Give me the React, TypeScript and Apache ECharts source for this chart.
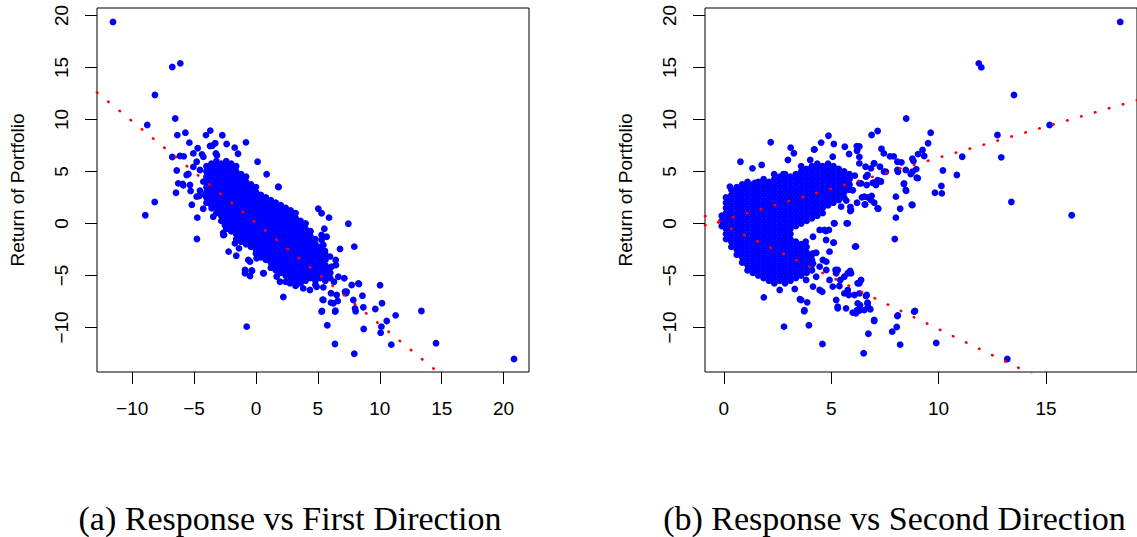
import React, { useEffect, useRef } from "react";
import * as echarts from "echarts";

// ---------- data ----------
const Y_LABEL = "Return of Portfolio";
const CAPTIONS = ["(a) Response vs First Direction", "(b) Response vs Second Direction"];
const Y_TICKS = [-10, -5, 0, 5, 10, 15, 20];
const FIRST_X_TICKS = [-10, -5, 0, 5, 10, 15, 20];
const SECOND_X_TICKS = [0, 5, 10, 15];
const Y_RANGE = [-14.28, 20.72];
const FIRST_X_RANGE = [-12.84, 22.05];
const SECOND_X_RANGE = [-0.88, 19.24];
// fitted lines: [intercept, slope]
const FIRST_FIT = [0.06, -0.977];
const SECOND_FIT_UP = [0.35, 0.598];
const SECOND_FIT_DOWN = [-0.16, -1.0];

// first direction: scattered points
const FIRST_OUTER: number[][] = [
  [-11.55, 19.38], [-6.76, 15.05], [-6.11, 15.4], [-8.16, 12.36], [-6.52, 10.1], [-8.78, 9.47],
  [-6.35, 8.5], [-5.7, 8.73], [-5.38, 7.77], [-4.04, 8.5], [-3.69, 8.93], [-2.72, 8.48], [-2.37, 7.64],
  [-1.72, 7.29], [-0.81, 7.8], [-1.45, 6.71], [-3.71, 7.45], [-3.29, 7.71], [-3.24, 6.74],
  [-4.71, 7.23], [-4.36, 6.65], [-3.53, 7.48], [-3.15, 6.55], [0.13, 5.94], [0.86, 4.73], [1.83, 3.5],
  [-6.76, 6.39], [-6.14, 6.49], [-5.84, 6.45], [-5.06, 6.74], [-4.79, 5.94], [-4.25, 6.42], [-4.52, 5.14],
  [-5.6, 4.66], [-5.33, 3.7], [-6.28, 3.86], [-4.25, 4.02], [-4.79, 2.58], [-4.12, 2.74], [-3.45, 0.65],
  [-3.58, 1.46], [-6.4, 5.1], [-5.06, 5.44], [-5.46, 4.76], [-5.87, 3.67], [-6.46, 2.96], [-5.92, 3.8],
  [-5.28, 3.13], [-4.58, 2.64], [-4.52, 3.16], [-8.94, 0.79], [-8.18, 2.07], [-5.18, 1.8], [-4.74, 0.56],
  [-4.77, -1.49], [-4.26, 1.42], [-2.21, -2.71], [-1.59, -3.1], [-0.75, -9.92], [-0.89, -4.79],
  [-0.48, -5.05], [-0.32, -4.54], [0.62, -4.79], [1.67, -5.1], [-0.62, -3.5], [-2.58, -1.1], [-2.65, -0.9],
  [2.21, -7.07], [-2.64, -1.11], [-2.51, -0.15], [-1.7, -1.91], [-1.37, -2.39], [-0.48, -3.67],
  [0.05, -3.35], [-0.88, -4.47], [-0.35, -4.54], [0.59, -4.79], [1.94, -5.6], [2.75, -5.76],
  [3.82, -6.24], [4.36, -6.4], [4.9, -6.08],
  [1.8, 3.54], [5.03, 1.42], [5.3, 0.98], [5.9, 0.56], [7.46, -0.02], [5.52, -0.5], [4.36, -0.79],
  [5.3, -1.1], [5.3, -1.59], [4.71, -1.97], [6.79, -2.45], [7.94, -2.23], [5.57, -2.64], [6.44, -3.5],
  [6.46, -3.99], [5.44, -2.07], [5.71, -1.27], [5.98, -3.19], [6.11, -4.15], [6.65, -5.12], [5.03, -4.96],
  [7.13, -5.27], [7.73, -5.91], [8.32, -5.82], [10.02, -5.94], [5.44, -6.14], [6.06, -6.71], [7.27, -6.71],
  [8.6, -6.95], [5.38, -7.32], [6.6, -7.45], [6.06, -7.61], [7.86, -7.36], [8.05, -8.44], [8.67, -8.06],
  [9.64, -8.22], [10.18, -7.67], [5.33, -8.41], [6.41, -8.38], [11.28, -8.83], [13.36, -8.41],
  [10.56, -9.38], [10.13, -9.92], [10.07, -10.5], [8.7, -10.14], [5.76, -9.79], [6.38, -11.59],
  [7.94, -12.52], [10.93, -11.65], [14.54, -11.52], [20.84, -13.03], [7.32, -6.56], [8.27, -5.76],
  [8.0, -8.16], [5.44, -7.36], [6.25, -7.68], [6.52, -6.88], [7.19, -6.56], [6.39, -8.48], [5.3, -8.48],
  [4.8, -5.9], [5.6, -5.5], [6.3, -5.6], [3.2, -6.0], [2.4, -5.6],
];

// first direction: dense core, one column per x
const FIRST_CORE: [number, number[]][] = [
  [-4.0, [2, 2.5, 3, 3.5, 4, 4.5, 5, 5.5]],
  [-3.6, [1.75, 2.25, 2.75, 3.25, 3.75, 4.25, 4.75, 5.25, 5.75]],
  [-3.2, [1, 1.5, 2, 2.5, 3, 3.5, 4, 4.5, 5, 5.5, 6]],
  [-2.8, [0.25, 0.75, 1.25, 1.75, 2.25, 2.75, 3.25, 3.75, 4.25, 4.75, 5.25, 5.75]],
  [-2.4, [-0.5, 0, 0.5, 1, 1.5, 2, 2.5, 3, 3.5, 4, 4.5, 5, 5.5, 6]],
  [-2.0, [-0.75, -0.25, 0.25, 0.75, 1.25, 1.75, 2.25, 2.75, 3.25, 3.75, 4.25, 4.75, 5.25, 5.75]],
  [-1.6, [-1.5, -1, -0.5, 0, 0.5, 1, 1.5, 2, 2.5, 3, 3.5, 4, 4.5, 5, 5.5]],
  [-1.2, [-1.75, -1.25, -0.75, -0.25, 0.25, 0.75, 1.25, 1.75, 2.25, 2.75, 3.25, 3.75, 4.25, 4.75]],
  [-0.8, [-2, -1.5, -1, -0.5, 0, 0.5, 1, 1.5, 2, 2.5, 3, 3.5, 4, 4.5]],
  [-0.4, [-2.25, -1.75, -1.25, -0.75, -0.25, 0.25, 0.75, 1.25, 1.75, 2.25, 2.75, 3.25, 3.75]],
  [0.0, [-2.9, -2.5, -2, -1.5, -1, -0.5, 0, 0.5, 1, 1.5, 2, 2.5, 3, 3.5]],
  [0.4, [-3.25, -2.75, -2.25, -1.75, -1.25, -0.75, -0.25, 0.25, 0.75, 1.25, 1.75, 2.25, 2.75]],
  [0.8, [-3.5, -3, -2.5, -2, -1.5, -1, -0.5, 0, 0.5, 1, 1.5, 2, 2.5]],
  [1.2, [-4.25, -3.75, -3.25, -2.75, -2.25, -1.75, -1.25, -0.75, -0.25, 0.25, 0.75, 1.25, 1.75, 2.25]],
  [1.6, [-4.5, -4, -3.5, -3, -2.5, -2, -1.5, -1, -0.5, 0, 0.5, 1, 1.5, 2]],
  [2.0, [-4.75, -4.25, -3.75, -3.25, -2.75, -2.25, -1.75, -1.25, -0.75, -0.25, 0.25, 0.75, 1.25, 1.75]],
  [2.4, [-5, -4.5, -4, -3.5, -3, -2.5, -2, -1.5, -1, -0.5, 0, 0.5, 1, 1.5]],
  [2.8, [-5.25, -4.75, -4.25, -3.75, -3.25, -2.75, -2.25, -1.75, -1.25, -0.75, -0.25, 0.25, 0.75, 1.25]],
  [3.2, [-5.5, -5, -4.5, -4, -3.5, -3, -2.5, -2, -1.5, -1, -0.5, 0, 0.5, 1]],
  [3.6, [-5.75, -5.25, -4.75, -4.25, -3.75, -3.25, -2.75, -2.25, -1.75, -1.25, -0.75, -0.25, 0.25]],
  [4.0, [-5.5, -5, -4.5, -4, -3.5, -3, -2.5, -2, -1.5, -1, -0.5, 0]],
  [4.4, [-5.25, -4.75, -4.25, -3.75, -3.25, -2.75, -2.25, -1.75, -1.25, -0.75]],
  [4.8, [-5.5, -5, -4.5, -4, -3.5, -3, -2.5, -2, -1.5]],
  [5.2, [-5.25, -4.75, -4.25, -3.75, -3.25, -2.75, -2.25]],
  [5.6, [-5, -4.5, -4, -3.5, -3]],
  [6.0, [-5.25, -4.75, -4.25]],
];

// second direction: scattered points
const SECOND_OUTER: number[][] = [
  [18.46, 19.38], [11.87, 15.4], [11.99, 15.01], [13.51, 12.36], [8.49, 10.1], [15.17, 9.47], [12.74, 8.51],
  [6.88, 8.51], [7.16, 8.89], [9.63, 8.73], [9.51, 7.71], [9.25, 7.07], [9.04, 6.67], [9.33, 6.49],
  [8.78, 6.23], [8.83, 6.0], [7.34, 7.18], [7.45, 6.74], [7.74, 6.45], [7.91, 6.45], [8.08, 5.94],
  [8.27, 5.88], [11.1, 6.42], [12.92, 6.36], [6.99, 5.78], [7.27, 5.46], [7.46, 4.97], [6.6, 5.46],
  [6.31, 5.78], [8.11, 4.97], [8.47, 5.14], [8.7, 4.75], [8.96, 5.23], [9.03, 4.36], [10.2, 5.1],
  [10.85, 4.66], [8.38, 3.79], [8.49, 3.15], [8.01, 2.58], [9.83, 2.96], [10.13, 3.6], [10.15, 2.9],
  [6.62, 4.5], [6.93, 3.9], [7.3, 4.06], [6.65, 3.7], [7.08, 3.7], [6.31, 7.4], [6.31, 6.4],
  [13.39, 2.07], [16.2, 0.79], [8.21, 1.42], [8.01, 0.56], [8.75, 1.8], [7.96, -1.49],
  [6.31, 3.86], [7.0, 3.93], [7.31, 4.02], [6.43, 2.51], [6.7, 2.51], [6.88, 2.64], [6.57, 1.81],
  [7.0, 2.0], [7.19, 1.42], [0.77, 5.94], [1.33, 5.3], [1.76, 5.63], [2.18, 7.81], [3.11, 7.29],
  [3.26, 6.75], [2.98, 6.1], [4.2, 7.1], [4.53, 7.78], [4.87, 8.44], [5.12, 7.64], [5.63, 7.38],
  [5.83, 6.68], [6.19, 7.44], [6.2, 7.0], [5.07, 6.42], [4.02, 6.1], [3.6, 5.5], [4.22, 7.13],
  [0.28, 3.54], [0.6, 3.06], [1.0, 3.54], [1.44, 3.9], [2.34, 4.73], [2.77, 4.73],
  [6.85, 5.3], [7.0, 5.78], [6.69, 4.66], [7.16, 4.17], [7.54, 4.98], [8.08, 5.14], [6.39, 3.86],
  [6.54, 2.58], [6.85, 2.26], [7.16, 1.46], [5.92, 1.3], [5.46, 1.62], [6.15, -2.2], [5.77, 0.01],
  [5.15, 0.01], [4.68, -0.63], [4.76, -1.59], [8.78, 4.98], [8.98, 4.4], [8.39, 3.86], [8.47, 3.22],
  [8.78, 1.78], [6.1, 4.6], [6.0, 3.2], [5.7, 2.2], [6.2, 2.0],
  [1.86, -7.1], [2.8, -9.92], [3.96, -9.79], [4.59, -11.59], [6.51, -12.48], [6.73, -10.6], [3.74, -8.44],
  [3.88, -7.58], [3.54, -7.29], [4.58, -6.56], [5.23, -7.36], [5.3, -8.0], [5.69, -8.16], [6.0, -8.57],
  [6.2, -8.33], [6.34, -7.85], [6.71, -8.0], [6.31, -6.72], [6.65, -6.88], [5.82, -6.88], [5.42, -5.43],
  [5.38, -6.01], [5.77, -4.79], [5.88, -4.57], [5.2, -4.47], [4.77, -3.67], [6.11, -2.23], [5.72, 0.02],
  [5.12, -1.84], [4.75, -0.72], [4.89, -0.63], [5.13, 0.02], [5.89, 1.2], [5.89, 1.6], [6.57, 1.84],
  [6.31, -5.75], [6.62, -6.97], [6.69, -7.61], [6.82, -8.25], [6.31, -8.38], [7.0, -9.37],
  [8.1, -8.83], [8.9, -8.41], [8.05, -9.95], [7.84, -10.4], [8.21, -11.65], [9.89, -11.49], [13.2, -13.03],
  [5.3, -4.47], [5.61, -5.12], [5.92, -4.79], [6.23, -5.75], [6.39, -5.43], [5.77, -6.4], [5.61, -6.72],
  [6.08, -6.88], [6.23, -7.68], [6.69, -7.68], [6.54, -8.33], [6.15, -8.64], [5.3, -8.16], [7.0, -9.28],
  [8.08, -8.9], [8.86, -8.48], [3.75, -8.33], [3.6, -7.36],
  [3.83, -5.43], [4.3, -5.12], [4.15, -6.07], [4.46, -6.4], [5.07, -6.07], [4.92, -5.43], [5.23, -4.79],
  [4.77, -4.47], [4.46, -4.15], [4.15, -3.83], [3.52, -4.79], [4.15, -2.87], [4.61, -3.51], [4.92, -2.71],
  [4.3, -2.81], [4.46, -0.62], [4.15, -1.27], [3.81, -1.75], [5.1, -1.84], [3.3, -6.3], [2.6, -6.4],
];

// second direction: dense core, one column per x
const SECOND_CORE: [number, number[]][] = [
  [-0.1, [-0.25, 0.25, 0.75]],
  [0.1, [-1.5, -1, -0.5, 0, 0.5, 1, 1.5, 2, 2.5]],
  [0.35, [-2.25, -1.75, -1.25, -0.75, -0.25, 0.25, 0.75, 1.25, 1.75, 2.25, 2.75, 3.25]],
  [0.6, [-3, -2.5, -2, -1.5, -1, -0.5, 0, 0.5, 1, 1.5, 2, 2.5, 3, 3.5]],
  [0.85, [-3.75, -3.25, -2.75, -2.25, -1.75, -1.25, -0.75, -0.25, 0.25, 0.75, 1.25, 1.75, 2.25, 2.75, 3.25, 3.75]],
  [1.1, [-4.5, -4, -3.5, -3, -2.5, -2, -1.5, -1, -0.5, 0, 0.5, 1, 1.5, 2, 2.5, 3, 3.5, 4]],
  [1.35, [-4.75, -4.25, -3.75, -3.25, -2.75, -2.25, -1.75, -1.25, -0.75, -0.25, 0.25, 0.75, 1.25, 1.75, 2.25, 2.75, 3.25, 3.75]],
  [1.6, [-5, -4.5, -4, -3.5, -3, -2.5, -2, -1.5, -1, -0.5, 0, 0.5, 1, 1.5, 2, 2.5, 3, 3.5, 4]],
  [1.85, [-5.25, -4.75, -4.25, -3.75, -3.25, -2.75, -2.25, -1.75, -1.25, -0.75, -0.25, 0.25, 0.75, 1.25, 1.75, 2.25, 2.75, 3.25, 3.75, 4.25]],
  [2.1, [-5.5, -5, -4.5, -4, -3.5, -3, -2.5, -2, -1.5, -1, -0.5, 0, 0.5, 1, 1.5, 2, 2.5, 3, 3.5, 4]],
  [2.35, [-5.75, -5.25, -4.75, -4.25, -3.75, -3.25, -2.75, -2.25, -1.75, -1.25, -0.75, -0.25, 0.25, 0.75, 1.25, 1.75, 2.25, 2.75, 3.25, 3.75, 4.25]],
  [2.6, [-5.5, -5, -4.5, -4, -3.5, -3, -2.5, -2, -1.5, -1, -0.5, 0, 0.5, 1, 1.5, 2, 2.5, 3, 3.5, 4, 4.5]],
  [2.85, [-5.75, -5.25, -4.75, -4.25, -3.75, -3.25, -2.75, -2.25, -1.75, -1.25, -0.75, -0.25, 0.25, 0.75, 1.25, 1.75, 2.25, 2.75, 3.25, 3.75, 4.25, 4.75]],
  [3.1, [-5.5, -5, -4.5, -4, -3.5, -3, -2.5, -2, -1.5, -1, -0.5, 0, 0.5, 1, 1.5, 2, 2.5, 3, 3.5, 4, 4.5]],
  [3.35, [-5.25, -4.75, -4.25, -3.75, -3.25, -2.75, -2.25, -1.75, -0.25, 0.25, 0.75, 1.25, 1.75, 2.25, 2.75, 3.25, 3.75, 4.25, 4.75]],
  [3.6, [-5, -4.5, -4, -3.5, -3, -2.5, -2, 0, 0.5, 1, 1.5, 2, 2.5, 3, 3.5, 4, 4.5, 5]],
  [3.85, [-4.75, -4.25, -3.75, -3.25, -2.75, -2.25, 0.25, 0.75, 1.25, 1.75, 2.25, 2.75, 3.25, 3.75, 4.25, 4.75, 5.25]],
  [4.1, [-4.5, -4, -3.5, -3, 0.5, 1, 1.5, 2, 2.5, 3, 3.5, 4, 4.5, 5, 5.5]],
  [4.35, [0.75, 1.25, 1.75, 2.25, 2.75, 3.25, 3.75, 4.25, 4.75, 5.25, 5.75]],
  [4.6, [1, 1.5, 2, 2.5, 3, 3.5, 4, 4.5, 5, 5.5]],
  [4.85, [1.75, 2.25, 2.75, 3.25, 3.75, 4.25, 4.75, 5.25, 5.75]],
  [5.1, [2, 2.5, 3, 3.5, 4, 4.5, 5, 5.5]],
  [5.35, [2.25, 2.75, 3.25, 3.75, 4.25, 4.75, 5.25]],
  [5.6, [2.5, 3, 3.5, 4, 4.5, 5]],
  [5.85, [3.25, 3.75, 4.25, 4.75]],
];

// ---------- helpers ----------
const flattenCore = (cols: [number, number[]][]) => {
  const out: number[][] = [];
  cols.forEach(([x, ys]) => ys.forEach((y) => out.push([x, y])));
  return out;
};
const fitLine = (fit: number[], range: number[]) => [
  [range[0], fit[0] + fit[1] * range[0]],
  [range[1], fit[0] + fit[1] * range[1]],
];
const minusFmt = (v: number) => String(v).replace("-", "\u2212");

const BLUE = "#0000ff";
const RED = "#ff0000";
const SANS = "Liberation Sans, Arial, Helvetica, sans-serif";
const SERIF = "Liberation Serif, Times New Roman, serif";

const PLOT_TOP = 8;
const PLOT_H = 364;
const PLOT_WS = [432, 434];
const LEFTS = [97, 705];

export default function App() {
  const ref = useRef<HTMLDivElement>(null);

  useEffect(() => {
    if (!ref.current) return;
    const chart = echarts.init(ref.current, undefined, { renderer: "svg" });

    const xAxis = (idx: number, range: number[], ticks: number[]) => ({
      type: "value",
      gridIndex: idx,
      min: range[0],
      max: range[1],
      position: "bottom",
      axisLine: { show: false, onZero: false },
      splitLine: { show: false },
      axisTick: { show: true, length: 12, customValues: ticks, lineStyle: { color: "#000", width: 1 } },
      axisLabel: {
        customValues: ticks,
        margin: 27,
        fontFamily: SANS,
        fontSize: 19,
        color: "#000",
        formatter: minusFmt,
      },
    });
    const yAxis = (idx: number) => ({
      type: "value",
      gridIndex: idx,
      min: Y_RANGE[0],
      max: Y_RANGE[1],
      position: "left",
      axisLine: { show: false, onZero: false },
      splitLine: { show: false },
      axisTick: { show: true, length: 12, customValues: Y_TICKS, lineStyle: { color: "#000", width: 1 } },
      axisLabel: {
        customValues: Y_TICKS,
        rotate: 90,
        margin: 26,
        fontFamily: SANS,
        fontSize: 19,
        color: "#000",
        formatter: minusFmt,
      },
    });

    const scatter = (idx: number, data: number[][]) => ({
      type: "scatter",
      xAxisIndex: idx,
      yAxisIndex: idx,
      data,
      symbol: "circle",
      symbolSize: 6.8,
      itemStyle: { color: BLUE, opacity: 1 },
      silent: true,
      z: 2,
    });
    const line = (idx: number, data: number[][]) => ({
      type: "line",
      xAxisIndex: idx,
      yAxisIndex: idx,
      data,
      symbol: "none",
      showSymbol: false,
      clip: true,
      silent: true,
      z: 5,
      lineStyle: { color: RED, width: 2.6, type: [0.5, 14], cap: "round" },
    });

    chart.setOption({
      animation: false,
      backgroundColor: "#fff",
      grid: LEFTS.map((l, i) => ({
        left: l,
        top: PLOT_TOP,
        width: PLOT_WS[i],
        height: PLOT_H,
        show: true,
        borderColor: "#000",
        borderWidth: 1,
        backgroundColor: "transparent",
        containLabel: false,
      })),
      xAxis: [xAxis(0, FIRST_X_RANGE, FIRST_X_TICKS), xAxis(1, SECOND_X_RANGE, SECOND_X_TICKS)],
      yAxis: [yAxis(0), yAxis(1)],
      series: [
        scatter(0, [...flattenCore(FIRST_CORE), ...FIRST_OUTER]),
        scatter(1, [...flattenCore(SECOND_CORE), ...SECOND_OUTER]),
        line(0, fitLine(FIRST_FIT, FIRST_X_RANGE)),
        line(1, fitLine(SECOND_FIT_UP, SECOND_X_RANGE)),
        line(1, fitLine(SECOND_FIT_DOWN, SECOND_X_RANGE)),
      ],
      graphic: [
        {
          type: "text",
          x: 17,
          y: PLOT_TOP + PLOT_H / 2,
          rotation: Math.PI / 2,
          style: { text: Y_LABEL, fontFamily: SANS, fontSize: 19, fill: "#000", align: "center", verticalAlign: "middle" },
        },
        {
          type: "text",
          x: 625,
          y: PLOT_TOP + PLOT_H / 2,
          rotation: Math.PI / 2,
          style: { text: Y_LABEL, fontFamily: SANS, fontSize: 19, fill: "#000", align: "center", verticalAlign: "middle" },
        },
        {
          type: "text",
          x: 290,
          y: 518,
          style: { text: CAPTIONS[0], fontFamily: SERIF, fontSize: 34, fill: "#000", align: "center", verticalAlign: "middle" },
        },
        {
          type: "text",
          x: 894.5,
          y: 518,
          style: { text: CAPTIONS[1], fontFamily: SERIF, fontSize: 34, fill: "#000", align: "center", verticalAlign: "middle" },
        },
      ],
    });

    return () => chart.dispose();
  }, []);

  return (
    <div
      ref={ref}
      style={{ position: "absolute", left: 0, top: 0, width: 1137, height: 537, background: "#fff" }}
    />
  );
}
